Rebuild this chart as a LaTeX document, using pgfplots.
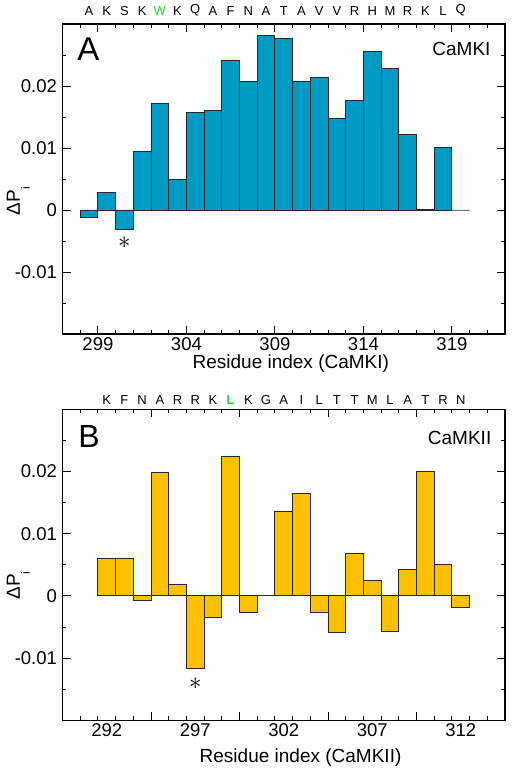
\documentclass[border=0pt]{standalone}
\usepackage{pgfplots}
\pgfplotsset{compat=1.18}
\usepackage{fontspec}
\setmainfont{Liberation Sans}
\definecolor{barA}{RGB}{0,155,196}
\definecolor{barB}{RGB}{255,192,0}
\definecolor{edge}{RGB}{40,40,40}
\definecolor{resgreen}{RGB}{40,215,40}
\newcommand{\tickfont}{\fontsize{18.5}{20}\selectfont}
\newcommand{\labfont}{\fontsize{19}{21}\selectfont}
\newcommand{\seqfont}{\fontsize{13}{15}\selectfont}
\newcommand{\dPi}{ΔP\raisebox{-10pt}{\fontsize{12}{12}\selectfont i}}
\pgfplotsset{
  panel/.style={
    scale only axis, width=442.5pt, anchor=south west, clip=false,
    ymin=-0.02, ymax=0.03,
    scaled y ticks=false, scaled x ticks=false,
    ytick={-0.01,0,0.01,0.02}, yticklabels={-0.01,0,0.01,0.02},
    minor ytick={-0.015,-0.005,0.005,0.015,0.025},
    tick align=inside,
    major tick length=8pt, minor tick length=4pt,
    tick style={black, line width=0.9pt},
    axis line style={black, line width=1.1pt},
    tick label style={font=\tickfont},
    yticklabel style={xshift=-2pt},
    label style={font=\labfont},
  },
  seq/.style={
    scale only axis, width=442.5pt, anchor=south west,
    axis x line*=top, axis y line=none, x axis line style={draw=none},
    scaled y ticks=false, scaled x ticks=false,
    ymin=0, ymax=1, ytick=\empty,
    major tick length=0pt, minor tick length=0pt,
    xticklabel style={font=\seqfont, inner sep=0pt, anchor=south},
  },
  bars/.style={ybar, bar width=1, bar shift=0pt, draw=edge, line width=0.9pt},
}
\begin{document}
\begin{tikzpicture}[x=1pt,y=1pt]
\useasboundingbox (0,0) rectangle (512,772);
% ---------------- Panel A ----------------
\begin{axis}[panel, at={(62.5pt,438pt)}, height=310pt,
  xmin=297, xmax=322,
  xtick={299,304,309,314,319}, xticklabels={299,304,309,314,319},
  minor xtick={298,299,...,321},
  xlabel={Residue index (CaMKI)},
  xlabel style={at={(axis description cs:0.516,-0.0968)}, anchor=center},
  ylabel={\dPi},
  ylabel style={at={(axis description cs:-0.0999,0.428)}, anchor=center},
]
\addplot[bars, fill=barA] coordinates {
(298.5,-0.0012) (299.5,0.0029) (300.5,-0.0031) (301.5,0.0095)
(302.5,0.0172) (303.5,0.0049) (304.5,0.0158) (305.5,0.0161)
(306.5,0.0242) (307.5,0.0208) (308.5,0.0282) (309.5,0.0277)
(310.5,0.0208) (311.5,0.0214) (312.5,0.0147) (313.5,0.0177)
(314.5,0.0256) (315.5,0.0228) (316.5,0.0122) (317.5,0.0001)
(318.5,0.0101) (319.5,0.0000)
};
\node[font=\fontsize{34}{34}\selectfont, inner sep=0pt] at (axis cs:300.5,-0.0053) {$\ast$};
\node[font=\fontsize{33}{33}\selectfont, inner sep=0pt] at (rel axis cs:0.0583,0.920) {A};
\node[font=\labfont, inner sep=0pt, anchor=east] at (rel axis cs:0.9677,0.918) {CaMKI};
\end{axis}
\begin{axis}[seq, at={(62.5pt,438pt)}, height=310pt,
  xmin=297, xmax=322,
  xtick={298.5,299.5,...,319.5},
  xticklabels={A,K,S,K,\textcolor{resgreen}{W},K,Q,A,F,N,A,T,A,V,V,R,H,M,R,K,L,Q},
  xticklabel style={yshift=8pt},
]
\addplot[draw=none] coordinates {(298,0.5) (320,0.5)};
\end{axis}
% ---------------- Panel B ----------------
\begin{axis}[panel, at={(62.5pt,51.7pt)}, height=311pt,
  xmin=289.5, xmax=314.5,
  xtick={294.5,299.5,304.5,309.5}, xticklabels={},
  minor xtick={290.5,291.5,...,313.5},
  extra x ticks={292,297,302,307,312},
  extra x tick labels={292,297,302,307,312},
  extra x tick style={major tick length=0pt},
  xlabel={Residue index (CaMKII)},
  xlabel style={at={(axis description cs:0.538,-0.121)}, anchor=center},
  ylabel={\dPi},
  ylabel style={at={(axis description cs:-0.0999,0.433)}, anchor=center},
]
\addplot[bars, fill=barB] coordinates {
(292,0.0060) (293,0.0060) (294,-0.0008) (295,0.0198)
(296,0.0019) (297,-0.0116) (298,-0.0034) (299,0.0225)
(300,-0.0026) (301,0.0000) (302,0.0136) (303,0.0164)
(304,-0.0027) (305,-0.0058) (306,0.0069) (307,0.0025)
(308,-0.0057) (309,0.0042) (310,0.0200) (311,0.0051)
(312,-0.0018)
};
\node[font=\fontsize{34}{34}\selectfont, inner sep=0pt] at (axis cs:297,-0.01406) {$\ast$};
\node[font=\fontsize{32}{32}\selectfont, inner sep=0pt] at (rel axis cs:0.06,0.914) {B};
\node[font=\labfont, inner sep=0pt, anchor=east] at (rel axis cs:0.9695,0.907) {CaMKII};
\end{axis}
\begin{axis}[seq, at={(62.5pt,51.7pt)}, height=311pt,
  xmin=289.5, xmax=314.5,
  xtick={292,293,...,312},
  xticklabels={K,F,N,A,R,R,K,\textcolor{resgreen}{\textbf{L}},K,G,A,I,L,T,T,M,L,A,T,R,N},
  xticklabel style={yshift=4.5pt},
]
\addplot[draw=none] coordinates {(292,0.5) (312,0.5)};
\end{axis}
\end{tikzpicture}
\end{document}
